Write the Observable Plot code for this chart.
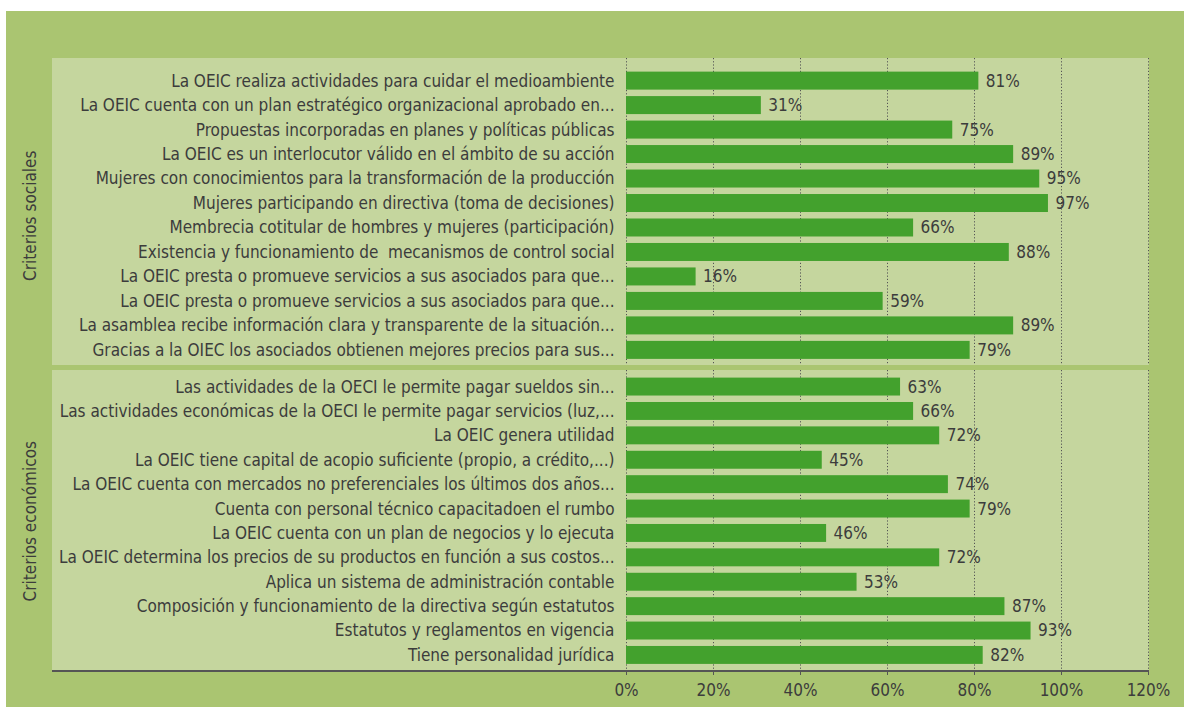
<!DOCTYPE html>
<html>
<head>
<meta charset="utf-8">
<script src="https://cdn.jsdelivr.net/npm/d3@7"></script>
<script src="https://cdn.jsdelivr.net/npm/@observablehq/plot@0.6"></script>
<style>
  html, body { margin: 0; padding: 0; background: #ffffff; }
  #outer { position: absolute; left: 6px; top: 11px; width: 1178px; height: 696px; background: #aac571; }
  .blk { position: absolute; left: 46px; }
  svg { display: block; overflow: visible; }
  text { font-family: "Liberation Sans Narrow", "DejaVu Sans Condensed", sans-serif; }
</style>
</head>
<body>
<div id="outer">
  <div class="blk" id="top" style="top:47px"></div>
  <div class="blk" id="bottom" style="top:359px"></div>
  <div class="blk" id="axis" style="top:661px"></div>
</div>
<script>
const groups = ["Criterios sociales", "Criterios económicos"];

const socialLabels = [
  "La OEIC realiza actividades para cuidar el medioambiente",
  "La OEIC cuenta con un plan estratégico organizacional aprobado en...",
  "Propuestas incorporadas en planes y políticas públicas",
  "La OEIC es un interlocutor válido en el ámbito de su acción",
  "Mujeres con conocimientos para la transformación de la producción",
  "Mujeres participando en directiva (toma de decisiones)",
  "Membrecia cotitular de hombres y mujeres (participación)",
  "Existencia y funcionamiento de  mecanismos de control social",
  "La OEIC presta o promueve servicios a sus asociados para que...",
  "La OEIC presta o promueve servicios a sus asociados para que...",
  "La asamblea recibe información clara y transparente de la situación...",
  "Gracias a la OIEC los asociados obtienen mejores precios para sus..."
];
const socialValues = [81, 31, 75, 89, 95, 97, 66, 88, 16, 59, 89, 79];

const economicLabels = [
  "Las actividades de la OECI le permite pagar sueldos sin...",
  "Las actividades económicas de la OECI le permite pagar servicios (luz,...",
  "La OEIC genera utilidad",
  "La OEIC tiene capital de acopio suficiente (propio, a crédito,...)",
  "La OEIC cuenta con mercados no preferenciales los últimos dos años...",
  "Cuenta con personal técnico capacitadoen el rumbo",
  "La OEIC cuenta con un plan de negocios y lo ejecuta",
  "La OEIC determina los precios de su productos en función a sus costos...",
  "Aplica un sistema de administración contable",
  "Composición y funcionamiento de la directiva según estatutos",
  "Estatutos y reglamentos en vigencia",
  "Tiene personalidad jurídica"
];
const economicValues = [63, 66, 72, 45, 74, 79, 46, 72, 53, 87, 93, 82];

const xTicks = [0, 20, 40, 60, 80, 100, 120];

const BAR = "#43a12d";
const PANEL = "#c5d69e";
const INK = "#3c3c3c";
const GRID = "#555555";
const FS = 17;

function panel(labels, values, group, opts) {
  const data = labels.map((label, i) => ({key: i, label, value: values[i]}));
  return Plot.plot({
    width: 1097,
    height: opts.height,
    marginLeft: 574,
    marginRight: 1,
    marginTop: opts.marginTop,
    marginBottom: 0,
    style: {background: PANEL, fontSize: FS + "px", color: INK, borderBottom: opts.border || "none"},
    x: {domain: [0, 120], axis: null},
    y: {domain: data.map(d => d.key), paddingInner: 0.265, paddingOuter: 0.25, round: false, axis: null},
    marks: [
      Plot.ruleX(xTicks, {stroke: GRID, strokeWidth: 1, strokeDasharray: "1.2,2", insetTop: -opts.marginTop}),
      Plot.barX(data, {x: "value", y: "key", fill: BAR}),
      Plot.text(data, {x: "value", y: "key", text: d => d.value + "%", textAnchor: "start", dx: 7, fill: INK, fontSize: FS}),
      Plot.axisY({tickSize: 0, tickPadding: 12, tickFormat: k => data[k].label, fontSize: FS, fill: INK, label: null}),
      Plot.text([group], {frameAnchor: "left", textAnchor: "middle", rotate: -90, dx: -596, fill: INK, fontSize: FS})
    ]
  });
}

document.getElementById("top").append(
  panel(socialLabels, socialValues, groups[0], {height: 307, marginTop: 7.5})
);
document.getElementById("bottom").append(
  panel(economicLabels, economicValues, groups[1], {height: 300, marginTop: 1.5, border: "2px solid #555"})
);

document.getElementById("axis").append(Plot.plot({
  width: 1097,
  height: 40,
  marginLeft: 574,
  marginRight: 1,
  marginTop: 0,
  marginBottom: 40,
  style: {background: "transparent", fontSize: FS + "px", color: INK},
  x: {domain: [0, 120]},
  marks: [
    Plot.axisX(xTicks, {anchor: "bottom", tickSize: 3, tickPadding: 8, tickFormat: d => d + "%", fontSize: FS, fill: INK, stroke: "#555", label: null})
  ]
}));
</script>
</body>
</html>
